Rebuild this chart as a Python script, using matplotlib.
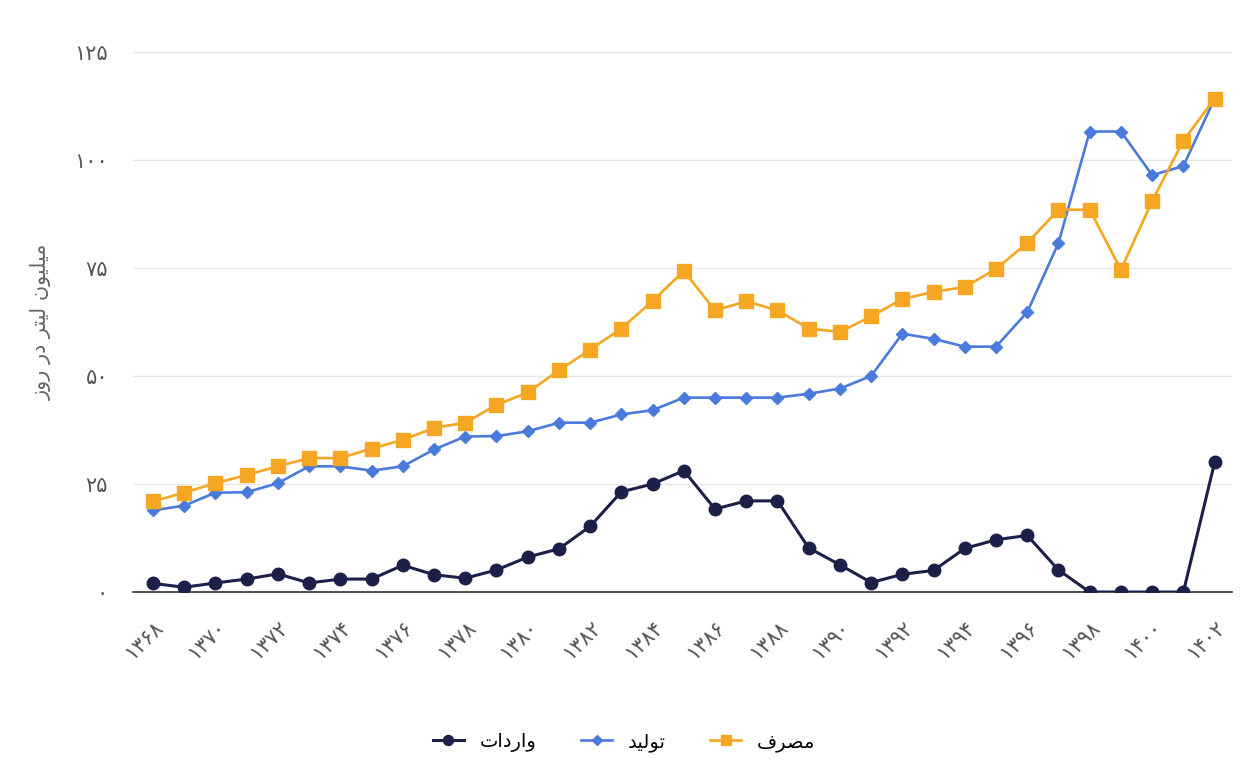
import matplotlib
matplotlib.use("Agg")
import matplotlib.pyplot as plt

# data (million litres per day)
years = list(range(1368, 1403))
consumption = [21, 23, 25.2, 27.1, 29.1, 31, 31, 33.2, 35.2, 38, 39.2, 43.3, 46.2, 51.3,
               56.1, 61, 67.4, 74.3, 65.2, 67.3, 65.2, 61, 60.2, 63.8, 67.8, 69.5, 70.6,
               74.8, 80.8, 88.5, 88.5, 74.6, 90.5, 104.5, 114.2]
production = [18.9, 20, 23, 23.1, 25.2, 29.1, 29.1, 28.1, 29.1, 33, 36, 36.1, 37.2, 39.2,
              39.2, 41.1, 42.1, 45, 45, 45, 45, 45.9, 47.1, 50, 59.8, 58.6, 56.8, 56.8,
              64.8, 80.8, 106.6, 106.6, 96.5, 98.6, 114.2]
imports = [2, 1.1, 2.1, 3, 4.2, 2.1, 3, 3, 6.2, 4, 3.2, 5.1, 8.1, 10, 15.2, 23.2, 25, 28.1,
           19.2, 21.1, 21.1, 10.2, 6.3, 2.2, 4.1, 5, 10.1, 12.1, 13.1, 5.1, 0, 0, 0, 0, 30]
y_ticks = [0, 25, 50, 75, 100, 125]

# labels already shaped (presentation forms, visual order) since matplotlib has no RTL shaping
lbl_consumption = "\uFED1\uFEAE\uFEBC\uFEE3"          # مصرف
lbl_production = "\uFEAA\uFEF4\uFEDF\uFEEE\uFE97"     # تولید
lbl_imports = "\uFE95\uFE8D\uFEA9\uFEAD\uFE8D\uFEED"  # واردات
lbl_y = "\uFEAF\uFEED\uFEAD \uFEAD\uFEA9 \uFEAE\uFE98\uFEF4\uFEDF \uFEE5\uFEEE\uFEF4\uFEE0\uFEF4\uFEE3"  # میلیون لیتر در روز

FA_DIGITS = str.maketrans("0123456789", "\u06F0\u06F1\u06F2\u06F3\u06F4\u06F5\u06F6\u06F7\u06F8\u06F9")


def fa(n):
    return str(n).translate(FA_DIGITS)


plt.rcParams['font.family'] = ['DejaVu Sans']

fig = plt.figure(figsize=(12.48, 7.65), dpi=100)
ax = fig.add_axes([0.1066, 0.2261, 0.8804, 0.7059])

c_orange = '#F5A623'
c_blue = '#4A7BDC'
c_navy = '#1C1F48'

l_prod, = ax.plot(years, production, color=c_blue, lw=1.9, marker='D', ms=6, zorder=3)
l_cons, = ax.plot(years, consumption, color=c_orange, lw=1.9, marker='s', ms=9.5, zorder=4)
l_imp, = ax.plot(years, imports, color=c_navy, lw=2.2, marker='o', ms=9, zorder=5)

ax.set_ylim(0, 125)
ax.set_xlim(years[0] - 0.64, years[-1] + 0.55)
ax.set_yticks(y_ticks)
ax.set_yticklabels([fa(v) for v in y_ticks], fontsize=15, color='#555555')
xt = years[::2]
ax.set_xticks(xt)
ax.set_xticklabels([fa(v) for v in xt], fontsize=15, color='#555555',
                   rotation=45, ha='right', rotation_mode='anchor')
ax.tick_params(axis='y', length=0, pad=18)
ax.tick_params(axis='x', length=0, pad=18)

ax.grid(axis='y', color='#e6e6e6', lw=1)
ax.set_axisbelow(True)
for s in ['top', 'right', 'left']:
    ax.spines[s].set_visible(False)
ax.spines['bottom'].set_color('#333333')
ax.spines['bottom'].set_linewidth(1.2)

ax.set_ylabel(lbl_y, fontsize=15, color='#666666', labelpad=16)

fig.legend([l_imp, l_prod, l_cons], [lbl_imports, lbl_production, lbl_consumption],
           loc='center', bbox_to_anchor=(0.5, 0.03), ncol=3, frameon=False,
           fontsize=14, handlelength=1.6, columnspacing=2.3, markerscale=0.8)

fig.savefig('out.png', dpi=100)
